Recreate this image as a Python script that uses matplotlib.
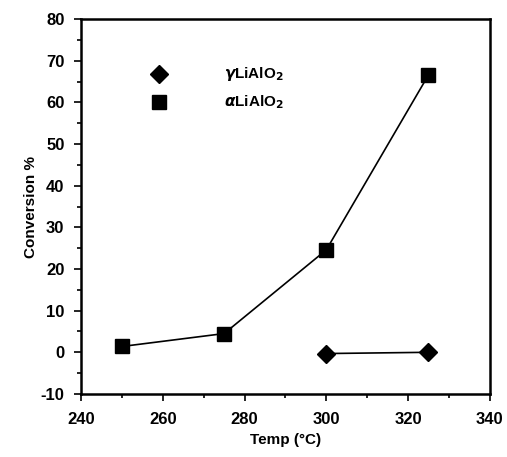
import matplotlib
matplotlib.use("Agg")
import matplotlib.pyplot as plt
from matplotlib.ticker import MultipleLocator

plt.rcParams['font.family'] = ['Liberation Sans', 'DejaVu Sans']
plt.rcParams['font.weight'] = 'bold'
plt.rcParams['axes.unicode_minus'] = False

alpha_temp = [250, 275, 300, 325]
alpha_conv = [1.4, 4.5, 24.6, 66.6]
gamma_temp = [300, 325]
gamma_conv = [-0.3, 0.0]

fig = plt.figure(figsize=(5.07, 4.57), dpi=100)
ax = fig.add_axes([0.16, 0.138, 0.806, 0.82])

ax.plot(alpha_temp, alpha_conv, color='black', lw=1.2, marker='s', ms=10,
        label=r'$\alpha$LiAlO$_\mathbf{2}$')
ax.plot(gamma_temp, gamma_conv, color='black', lw=1.2, marker='D', ms=9.5,
        label=r'$\gamma$LiAlO$_\mathbf{2}$')

ax.set_xlim(240, 340)
ax.set_ylim(-10, 80)
ax.xaxis.set_major_locator(MultipleLocator(20))
ax.xaxis.set_minor_locator(MultipleLocator(10))
ax.yaxis.set_major_locator(MultipleLocator(10))
ax.yaxis.set_minor_locator(MultipleLocator(5))
ax.tick_params(which='both', direction='out', width=1.2)
ax.tick_params(which='major', length=5, labelsize=12)
ax.tick_params(axis='x', which='major', pad=8)
ax.tick_params(axis='y', which='major', pad=7)
ax.tick_params(which='minor', length=3)
for lab in ax.get_xticklabels() + ax.get_yticklabels():
    lab.set_fontweight('bold')
for s in ax.spines.values():
    s.set_linewidth(1.8)

ax.set_xlabel('Temp (°C)', fontsize=11, fontweight='bold', labelpad=4)
ax.set_ylabel('Conversion %', fontsize=11, fontweight='bold', labelpad=2)

# legend (manual markers in axes coords)
ax.plot([0.19], [0.853], transform=ax.transAxes, marker='D', ms=9.5, color='black', ls='none')
ax.plot([0.19], [0.779], transform=ax.transAxes, marker='s', ms=10, color='black', ls='none')
ax.text(0.35, 0.853, r'$\gamma$LiAlO$_\mathbf{2}$', transform=ax.transAxes, fontsize=11,
        fontweight='bold', va='center')
ax.text(0.35, 0.779, r'$\alpha$LiAlO$_\mathbf{2}$', transform=ax.transAxes, fontsize=11,
        fontweight='bold', va='center')

fig.savefig('out.png', dpi=100)
